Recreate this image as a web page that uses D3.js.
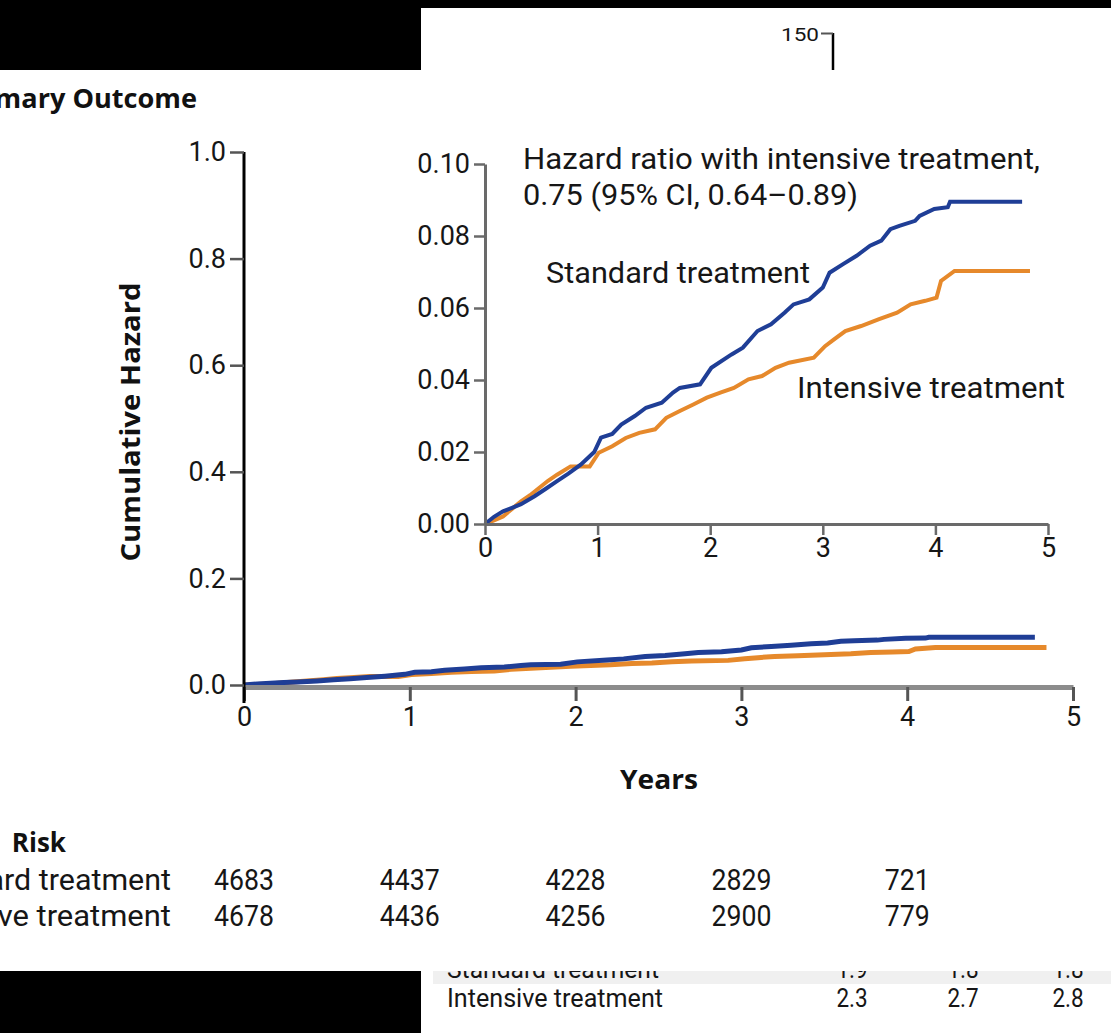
<!DOCTYPE html>
<html>
<head>
<meta charset="utf-8">
<script src="https://cdn.jsdelivr.net/npm/d3@7"></script>
<style>
  html, body { margin: 0; padding: 0; background: #fff; }
  svg { display: block; }
  svg text { font-family: Roboto, "Open Sans", sans-serif; fill: #161616; }
  svg text.bold { font-family: "Open Sans", "Noto Sans", sans-serif; font-weight: 700; fill: #111; }
</style>
</head>
<body>
<svg id="chart" width="1111" height="1033"></svg>
<script>
// Cumulative hazard, standard treatment: [years, hazard]
const standardHazard = [
  [0, 0], [0.08, 0.002], [0.16, 0.0035], [0.24, 0.0045], [0.32, 0.0055], [0.44, 0.0077],
  [0.54, 0.0098], [0.64, 0.0119], [0.74, 0.014], [0.85, 0.0165], [0.97, 0.020],
  [1.03, 0.024], [1.13, 0.025], [1.21, 0.0276], [1.33, 0.030], [1.43, 0.0323],
  [1.57, 0.0337], [1.67, 0.0365], [1.73, 0.0378], [1.91, 0.0388], [2.01, 0.0434],
  [2.19, 0.0471], [2.29, 0.049], [2.42, 0.0536], [2.54, 0.0555], [2.66, 0.0587],
  [2.74, 0.061], [2.88, 0.0624], [3.0, 0.0657], [3.06, 0.0698], [3.18, 0.0722],
  [3.30, 0.0745], [3.42, 0.0773], [3.52, 0.0787], [3.60, 0.0819], [3.68, 0.0828],
  [3.82, 0.0842], [3.86, 0.0856], [3.99, 0.0875], [4.11, 0.088], [4.13, 0.0895],
  [4.77, 0.0895]
];

// Cumulative hazard, intensive treatment: [years, hazard]
const intensiveHazard = [
  [0, 0], [0.08, 0.001], [0.16, 0.0021], [0.24, 0.0042], [0.32, 0.0063], [0.40, 0.008],
  [0.48, 0.010], [0.56, 0.012], [0.64, 0.0137], [0.76, 0.016], [0.93, 0.016],
  [1.01, 0.0198], [1.13, 0.0216], [1.25, 0.0239], [1.37, 0.0253], [1.51, 0.0263],
  [1.61, 0.0295], [1.73, 0.0314], [1.85, 0.0332], [1.97, 0.0351], [2.09, 0.0365],
  [2.21, 0.0378], [2.34, 0.0402], [2.46, 0.0411], [2.58, 0.0434], [2.70, 0.0448],
  [2.92, 0.0462], [3.02, 0.0494], [3.10, 0.0513], [3.20, 0.0536], [3.34, 0.055],
  [3.50, 0.0569], [3.66, 0.0587], [3.78, 0.061], [3.91, 0.062], [4.01, 0.0629],
  [4.05, 0.0675], [4.17, 0.0703], [4.84, 0.0703]
];

const yearTicks = [0, 1, 2, 3, 4, 5];
const mainYTicks = [0, 0.2, 0.4, 0.6, 0.8, 1.0];
const insetYTicks = [0, 0.02, 0.04, 0.06, 0.08, 0.10];

// Number at risk at each year
const riskGroups = ["Standard treatment", "Intensive treatment"];
const riskStandard = [4683, 4437, 4228, 2829, 721];
const riskIntensive = [4678, 4436, 4256, 2900, 779];

// Lower table rows
const tableRows = ["Standard treatment", "Intensive treatment"];
const tableStandard = ["1.9", "1.8", "1.8"];
const tableIntensive = ["2.3", "2.7", "2.8"];

const hazardRatioText = ["Hazard ratio with intensive treatment,", "0.75 (95% CI, 0.64\u20130.89)"];

const BLUE = "#1f3e96";
const ORANGE = "#e6892b";

const svg = d3.select("#chart");

// squeeze a text run to a given width (condensed typeface look)
function fit(sel, width) {
  sel.attr("textLength", width).attr("lengthAdjust", "spacingAndGlyphs");
  return sel;
}
function squeeze(sel, k) {
  sel.each(function () {
    const w = this.getComputedTextLength();
    this.setAttribute("textLength", w * k);
    this.setAttribute("lengthAdjust", "spacingAndGlyphs");
  });
  return sel;
}

// ---- main panel ----
const x = d3.scaleLinear().domain([0, 5]).range([244, 1073]);
const y = d3.scaleLinear().domain([0, 1]).range([685, 152]);

const line = (xs, ys) => d3.line().x(d => xs(d[0])).y(d => ys(d[1])).curve(d3.curveLinear);

svg.append("path").datum(intensiveHazard)
  .attr("d", line(x, y)).attr("fill", "none").attr("stroke", ORANGE).attr("stroke-width", 5);
svg.append("path").datum(standardHazard)
  .attr("d", line(x, y)).attr("fill", "none").attr("stroke", BLUE).attr("stroke-width", 5);

// x axis
const xAxisG = svg.append("g").attr("transform", `translate(0,${y(0) + 2})`)
  .call(d3.axisBottom(x).tickValues(yearTicks).tickFormat(d3.format("d")).tickSize(14).tickSizeOuter(0));
xAxisG.select(".domain").attr("stroke", "#8c8c8c").attr("stroke-width", 5);
xAxisG.selectAll(".tick line").attr("stroke", "#555").attr("stroke-width", 3);
xAxisG.selectAll(".tick text").attr("font-size", 27).attr("dy", "0.8em");

// y axis
const yAxisG = svg.append("g").attr("transform", `translate(${x(0)},0)`)
  .call(d3.axisLeft(y).tickValues(mainYTicks).tickFormat(d3.format(".1f")).tickSize(14).tickSizeOuter(0));
yAxisG.select(".domain").attr("stroke", "#000").attr("stroke-width", 3)
  .attr("d", `M0,${y(1)}V${y(0) + 18}`);
yAxisG.selectAll(".tick line").attr("stroke", "#555").attr("stroke-width", 2.5);
yAxisG.selectAll(".tick text").attr("font-size", 27).attr("x", -18);

fit(svg.append("text").attr("class", "bold").attr("font-size", 26)
  .attr("transform", `translate(140,422) rotate(-90)`)
  .attr("text-anchor", "middle").text("Cumulative Hazard"), 279);

fit(svg.append("text").attr("class", "bold").attr("font-size", 26)
  .attr("x", 659).attr("y", 789).attr("text-anchor", "middle").text("Years"), 78);

fit(svg.append("text").attr("class", "bold").attr("font-size", 26)
  .attr("x", 197).attr("y", 108).attr("text-anchor", "end").text("Primary Outcome"), 240);

// ---- inset panel ----
const xi = d3.scaleLinear().domain([0, 5]).range([485, 1048]);
const yi = d3.scaleLinear().domain([0, 0.1]).range([524, 164]);

svg.append("path").datum(intensiveHazard)
  .attr("d", line(xi, yi)).attr("fill", "none").attr("stroke", ORANGE).attr("stroke-width", 4);
svg.append("path").datum(standardHazard)
  .attr("d", line(xi, yi)).attr("fill", "none").attr("stroke", BLUE).attr("stroke-width", 4);

const xiG = svg.append("g").attr("transform", `translate(0,${yi(0)})`)
  .call(d3.axisBottom(xi).tickValues(yearTicks).tickFormat(d3.format("d")).tickSize(11).tickSizeOuter(0));
xiG.select(".domain").attr("stroke", "#6a6a6a").attr("stroke-width", 3);
xiG.selectAll(".tick line").attr("stroke", "#6a6a6a").attr("stroke-width", 2.5);
xiG.selectAll(".tick text").attr("font-size", 27).attr("dy", "0.7em");

const yiG = svg.append("g").attr("transform", `translate(${xi(0)},0)`)
  .call(d3.axisLeft(yi).tickValues(insetYTicks).tickFormat(d3.format(".2f")).tickSize(11).tickSizeOuter(0));
yiG.select(".domain").attr("stroke", "#6a6a6a").attr("stroke-width", 3);
yiG.selectAll(".tick line").attr("stroke", "#6a6a6a").attr("stroke-width", 2.5);
yiG.selectAll(".tick text").attr("font-size", 27).attr("x", -15);

hazardRatioText.forEach((t, i) => {
  fit(svg.append("text").attr("font-size", 29)
    .attr("x", 523).attr("y", 169 + i * 36).text(t), i === 0 ? 517 : 335);
});

fit(svg.append("text").attr("font-size", 29)
  .attr("x", 546).attr("y", 283).text("Standard treatment"), 264);
fit(svg.append("text").attr("font-size", 29)
  .attr("x", 797).attr("y", 398).text("Intensive treatment"), 268);

// ---- number at risk ----
svg.append("text").attr("class", "bold").attr("font-size", 26).attr("word-spacing", 6)
  .attr("x", 66).attr("y", 852).attr("text-anchor", "end").text("No. at Risk");

[riskStandard, riskIntensive].forEach((vals, r) => {
  const rowY = 890 + r * 36;
  fit(svg.append("text").attr("font-size", 29)
    .attr("x", 171).attr("y", rowY).attr("text-anchor", "end").text(riskGroups[r]), r === 0 ? 262 : 266);
  squeeze(svg.selectAll(null).data(vals).enter().append("text")
    .attr("font-size", 29)
    .attr("x", (d, i) => x(i)).attr("y", rowY).attr("text-anchor", "middle").text(d => d), 0.92);
});

// ---- lower table (partly covered) ----
const tableCols = [852, 963, 1068];
svg.append("clipPath").attr("id", "rowclip")
  .append("rect").attr("x", 421).attr("y", 971).attr("width", 690).attr("height", 62);
const tbl = svg.append("g").attr("clip-path", "url(#rowclip)");
tbl.append("rect").attr("x", 433).attr("y", 971).attr("width", 678).attr("height", 13).attr("fill", "#f0f0f0");
[tableStandard, tableIntensive].forEach((vals, r) => {
  const rowY = 978 + r * 29;
  fit(tbl.append("text").attr("font-size", 25).attr("fill", "#222")
    .attr("x", 447).attr("y", rowY).text(tableRows[r]), r === 0 ? 212 : 216);
  squeeze(tbl.selectAll(null).data(vals).enter().append("text")
    .attr("font-size", 25).attr("fill", "#222")
    .attr("x", (d, i) => tableCols[i]).attr("y", rowY).attr("text-anchor", "middle").text(d => d), 0.9);
});

// ---- neighbouring panel axis fragment ----
const yn = d3.scaleLinear().domain([0, 150]).range([420, 33]);
const ynG = svg.append("g").attr("transform", "translate(833,0)")
  .call(d3.axisLeft(yn).tickValues([150]).tickSize(12).tickSizeOuter(0));
ynG.select(".domain").attr("stroke", "#000").attr("stroke-width", 2.5).attr("d", `M0,${yn(150)}V70`);
ynG.selectAll(".tick line").attr("stroke", "#555").attr("stroke-width", 2);
fit(ynG.selectAll(".tick text").attr("font-size", 19).attr("x", -14).attr("dy", "0.4em"), 38);

// axis groups: let the stylesheet pick the typeface
svg.selectAll("g").attr("font-family", null).attr("font-size", null);

// ---- surrounding page frame ----
svg.append("rect").attr("x", 0).attr("y", 0).attr("width", 1111).attr("height", 8).attr("fill", "#000");
svg.append("rect").attr("x", 0).attr("y", 0).attr("width", 421).attr("height", 70).attr("fill", "#000");
svg.append("rect").attr("x", 0).attr("y", 971).attr("width", 421).attr("height", 62).attr("fill", "#000");
</script>
</body>
</html>
